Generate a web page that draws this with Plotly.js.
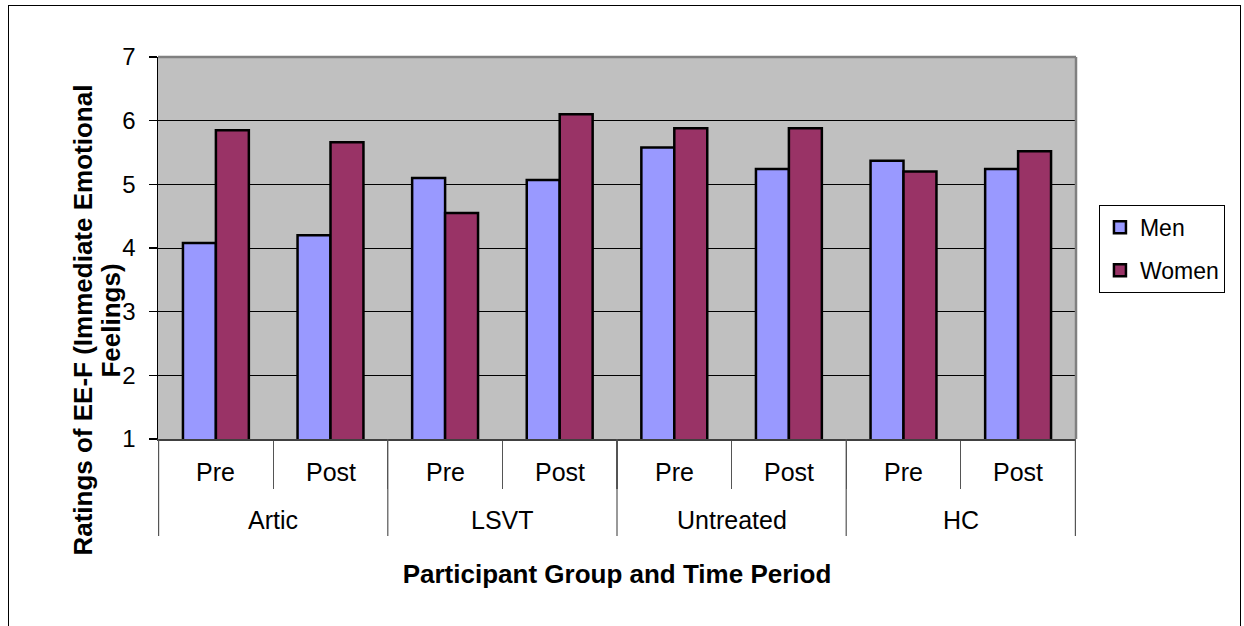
<!DOCTYPE html>
<html>
<head>
<meta charset="utf-8">
<script src="https://cdn.plot.ly/plotly-3.0.1.min.js"></script>
<style>
  html, body { margin: 0; padding: 0; background: #fff; }
  #wrap { position: relative; width: 1244px; height: 626px; overflow: hidden; }
  #chart { position: absolute; left: 0; top: 0; width: 1244px; height: 626px; }
  #frame { position: absolute; left: 8px; top: 5px; width: 1233px; height: 640px;
           border: 1px solid #000; pointer-events: none; box-sizing: border-box; }
</style>
</head>
<body>
<div id="wrap">
  <div id="chart"></div>
  <div id="frame"></div>
</div>
<script>
// Participant groups and the two time periods measured in each
const groups = ['Artic', 'LSVT', 'Untreated', 'HC'];
const periods = ['Pre', 'Post'];

// Mean EE-F ratings, one value per group/period pair
const men   = [4.08, 4.20, 5.10, 5.07, 5.58, 5.24, 5.37, 5.24];
const women = [5.85, 5.66, 4.55, 6.10, 5.88, 5.88, 5.20, 5.52];

const yTicks = [1, 2, 3, 4, 5, 6, 7];

// Vertical title, one entry per line
const yTitleLines = ['Ratings of EE-F (Immediate Emotional', 'Feelings)'];

// Two-level category coordinates: outer = group, inner = period
const outer = [];
const inner = [];
groups.forEach(g => periods.forEach(p => { outer.push(g); inner.push(p); }));

const FONT = 'Liberation Sans, Arial, Helvetica, sans-serif';

const traces = [
  {
    type: 'bar', name: 'Men', legendgroup: 'men',
    x: [outer, inner], y: men,
    marker: { color: '#9999FF', line: { color: '#000', width: 2.5 } },
    hoverinfo: 'y'
  },
  {
    type: 'bar', name: 'Women', legendgroup: 'women',
    x: [outer, inner], y: women,
    marker: { color: '#993366', line: { color: '#000', width: 2.5 } },
    hoverinfo: 'y'
  }
];

// Label rows under the axis: periods first, then groups
const annotations = [];
inner.forEach((p, i) => {
  annotations.push({
    xref: 'x', yref: 'paper', x: i, y: 0, yanchor: 'middle', yshift: -33,
    text: p, showarrow: false, font: { family: FONT, size: 25, color: '#000' }
  });
});
groups.forEach((g, k) => {
  annotations.push({
    xref: 'x', yref: 'paper', x: k * periods.length + (periods.length - 1) / 2,
    y: 0, yanchor: 'middle', yshift: -81,
    text: g, showarrow: false, font: { family: FONT, size: 25, color: '#000' }
  });
});
// Vertical axis title, centred on the plot plus its label rows
const yTitleX = [-75, -47];
yTitleLines.forEach((line, j) => {
  annotations.push({
    xref: 'paper', yref: 'paper', x: 0, xshift: yTitleX[j], y: 0.31,
    yanchor: 'middle', xanchor: 'center', textangle: -90,
    text: '<b>' + line + '</b>',
    showarrow: false, font: { family: FONT, size: 26, color: '#000' }
  });
});

// Group dividers reach below both label rows
const shapes = [];
for (let k = 0; k <= groups.length; k++) {
  const xb = k * periods.length - 0.5;
  shapes.push({
    type: 'line', xref: 'x', yref: 'paper', ysizemode: 'pixel', yanchor: 0,
    x0: xb, x1: xb, y0: 0, y1: -97, line: { color: '#555', width: 1.2 }
  });
}
// Grey frame along the top and right of the plot area
shapes.push({ type: 'line', xref: 'paper', yref: 'paper', x0: 0, x1: 1, y0: 1, y1: 1,
              line: { color: '#808080', width: 2.5 }, layer: 'above' });
shapes.push({ type: 'line', xref: 'paper', yref: 'paper', x0: 1, x1: 1, y0: 0, y1: 1,
              line: { color: '#808080', width: 2.5 }, layer: 'above' });

const layout = {
  width: 1244, height: 626,
  margin: { l: 158, r: 168, t: 57, b: 187, pad: 0 },
  paper_bgcolor: '#fff',
  plot_bgcolor: '#C0C0C0',
  font: { family: FONT, color: '#000' },
  barmode: 'group',
  bargap: 0.425,
  bargroupgap: 0,
  showlegend: true,
  legend: {
    x: 1.025, xanchor: 'left', y: 0.613, yanchor: 'top',
    bgcolor: '#fff', bordercolor: '#000', borderwidth: 1,
    font: { family: FONT, size: 23, color: '#000' },
    tracegroupgap: 10
  },
  xaxis: {
    type: 'multicategory',
    showticklabels: false,
    ticks: 'outside', tickson: 'boundaries', ticklen: 48, tickwidth: 1.2, tickcolor: '#555',
    showline: true, linecolor: '#404040', linewidth: 2,
    showgrid: false, zeroline: false,
    showdividers: false,
    title: {
      text: '<b>Participant Group and Time Period</b>',
      font: { family: FONT, size: 26, color: '#000' },
      standoff: 125
    }
  },
  yaxis: {
    range: [1, 7],
    tickvals: yTicks,
    ticks: 'outside', ticklen: 8, tickwidth: 1.2, tickcolor: '#000',
    ticklabelstandoff: 8,
    tickfont: { family: FONT, size: 24, color: '#000' },
    showgrid: true, gridcolor: '#000', gridwidth: 1,
    showline: true, linecolor: '#000', linewidth: 1.5,
    zeroline: false
  },
  annotations: annotations,
  shapes: shapes
};

Plotly.newPlot('chart', traces, layout, { displayModeBar: false, staticPlot: true });
</script>
</body>
</html>
